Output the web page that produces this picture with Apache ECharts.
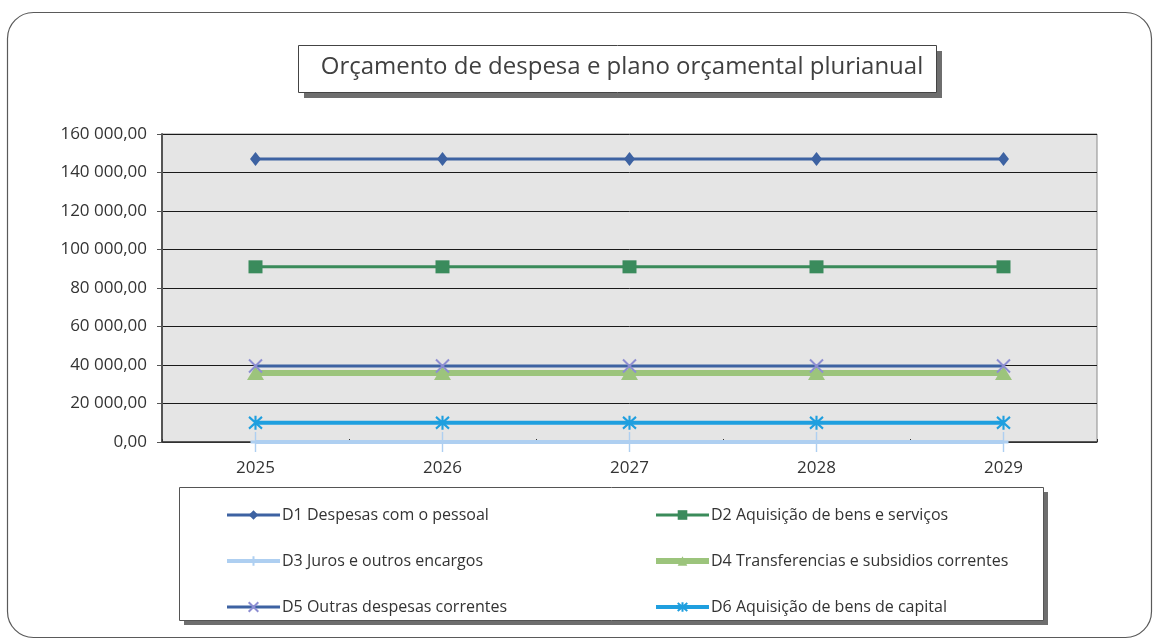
<!DOCTYPE html>
<html>
<head>
<meta charset="utf-8">
<script src="https://cdn.jsdelivr.net/npm/echarts@6/dist/echarts.min.js"></script>
<style>
html,body{margin:0;padding:0;background:#fff;}
#c{width:1154px;height:642px;}
</style>
</head>
<body>
<div id="c"></div>
<script>
const years = ['2025', '2026', '2027', '2028', '2029'];
const seriesNames = [
  'D1 Despesas com o pessoal',
  'D2 Aquisição de bens e serviços',
  'D3 Juros e outros encargos',
  'D4 Transferencias e subsidios correntes',
  'D5 Outras despesas correntes',
  'D6 Aquisição de bens de capital'
];
const d1 = [147000, 147000, 147000, 147000, 147000];
const d2 = [91000, 91000, 91000, 91000, 91000];
const d3 = [0, 0, 0, 0, 0];
const d4 = [35900, 35900, 35900, 35900, 35900];
const d5 = [39500, 39500, 39500, 39500, 39500];
const d6 = [10000, 10000, 10000, 10000, 10000];
const yTicks = [0, 20000, 40000, 60000, 80000, 100000, 120000, 140000, 160000];
const titleText = 'Orçamento de despesa e plano orçamental plurianual';

function fmt(v) {
  const s = Number(v).toFixed(2);
  let parts = s.split('.');
  const i = parts[0].replace(/\B(?=(\d{3})+(?!\d))/g, ' ');
  return i + ',' + parts[1];
}

const FONT = 'Open Sans';
const chart = echarts.init(document.getElementById('c'), null, {renderer: 'canvas'});

const X_PATH = 'path://M0,0L10,10M10,0L0,10';
const AST_PATH = 'path://M0,0L10,10M10,0L0,10M5,-1L5,11';
const PLUS_PATH = 'path://M5,0L5,10M2,5L8,5';

function mk(name, data, o) {
  return {
    name: name,
    type: 'line',
    data: data,
    symbol: o.symbol,
    symbolSize: o.size,
    showAllSymbol: true,
    lineStyle: {color: o.line, width: o.width},
    itemStyle: {color: o.fill, borderColor: o.border || o.fill, borderWidth: o.bw || 0},
    z: o.z || 2,
    emphasis: {disabled: true},
    animation: false
  };
}

const legendCommon = {
  orient: 'vertical', top: 502, itemGap: 30, itemWidth: 53, itemHeight: 12,
  textStyle: {fontFamily: FONT, fontSize: 16, color: '#333', padding: [0, 0, 0, -3]},
  lineStyle: {width: 'inherit'},
  selectedMode: false
};

const option = {
  animation: false,
  backgroundColor: '#ffffff',
  title: {
    text: titleText,
    left: 617,
    top: 50,
    textAlign: 'center',
    textStyle: {fontFamily: FONT, fontSize: 24, fontWeight: 'normal', color: '#404040'}
  },
  graphic: [
    {type: 'rect', z: -10, shape: {x: 7.5, y: 12.5, width: 1144, height: 625, r: 26},
     style: {fill: '#ffffff', stroke: '#5a5a5a', lineWidth: 1.2}},
    {type: 'rect', z: -5, shape: {x: 304, y: 51, width: 638, height: 47}, style: {fill: '#6e6e6e'}},
    {type: 'rect', z: -4, shape: {x: 298.5, y: 45.5, width: 638, height: 47},
     style: {fill: '#ffffff', stroke: '#444', lineWidth: 1}},
    {type: 'rect', z: -5, shape: {x: 184, y: 492, width: 864, height: 133}, style: {fill: '#6e6e6e'}},
    {type: 'rect', z: -4, shape: {x: 179.5, y: 487.5, width: 864, height: 133},
     style: {fill: '#ffffff', stroke: '#555', lineWidth: 1}}
  ],
  legend: [
    Object.assign({}, legendCommon, {left: 220, data: [seriesNames[0], seriesNames[2], seriesNames[4]]}),
    Object.assign({}, legendCommon, {left: 648, data: [seriesNames[1], seriesNames[3], seriesNames[5]]})
  ],
  grid: {
    left: 162, right: 57, top: 134, bottom: 200,
    show: true, backgroundColor: '#e5e5e5', borderColor: '#8a8a8a', borderWidth: 1
  },
  xAxis: {
    type: 'category',
    data: years,
    boundaryGap: true,
    axisLine: {show: true, lineStyle: {color: '#3a3a3a', width: 1.5}},
    axisTick: {show: true, inside: true, length: 3, lineStyle: {color: '#333'}},
    axisLabel: {fontFamily: FONT, fontSize: 17, color: '#333', margin: 18},
    splitLine: {show: false}
  },
  yAxis: {
    type: 'value',
    min: 0, max: 160000, interval: 20000,
    axisLine: {show: true, lineStyle: {color: '#555', width: 2}},
    axisTick: {show: true, length: 5, lineStyle: {color: '#555'}},
    axisLabel: {fontFamily: FONT, fontSize: 17, color: '#333', margin: 15, formatter: fmt},
    splitLine: {show: true, lineStyle: {color: '#1a1a1a', width: 1}}
  },
  series: [
    mk(seriesNames[0], d1, {symbol: 'diamond', size: [11, 14], line: '#3d62a2', fill: '#3d62a2', width: 3, z: 6}),
    mk(seriesNames[1], d2, {symbol: 'rect', size: [14, 13], line: '#3a8b5a', fill: '#3a8b5c', width: 3, z: 6}),
    mk(seriesNames[2], d3, {symbol: PLUS_PATH, size: [10, 20], line: '#aecff1', fill: '#aecff1', border: '#aecff1', bw: 2, width: 4, z: 3}),
    mk(seriesNames[3], d4, {symbol: 'triangle', size: [17, 14], line: '#9cc47c', fill: '#9cc47c', width: 6, z: 4}),
    mk(seriesNames[4], d5, {symbol: X_PATH, size: [13, 13], line: '#3d62a2', fill: '#8d8ed2', border: '#8d8ed2', bw: 2, width: 3, z: 5}),
    mk(seriesNames[5], d6, {symbol: AST_PATH, size: [13, 14], line: '#1f9fdf', fill: '#1f9fdf', border: '#1f9fdf', bw: 2.2, width: 4, z: 5})
  ]
};
chart.setOption(option);
</script>
</body>
</html>
